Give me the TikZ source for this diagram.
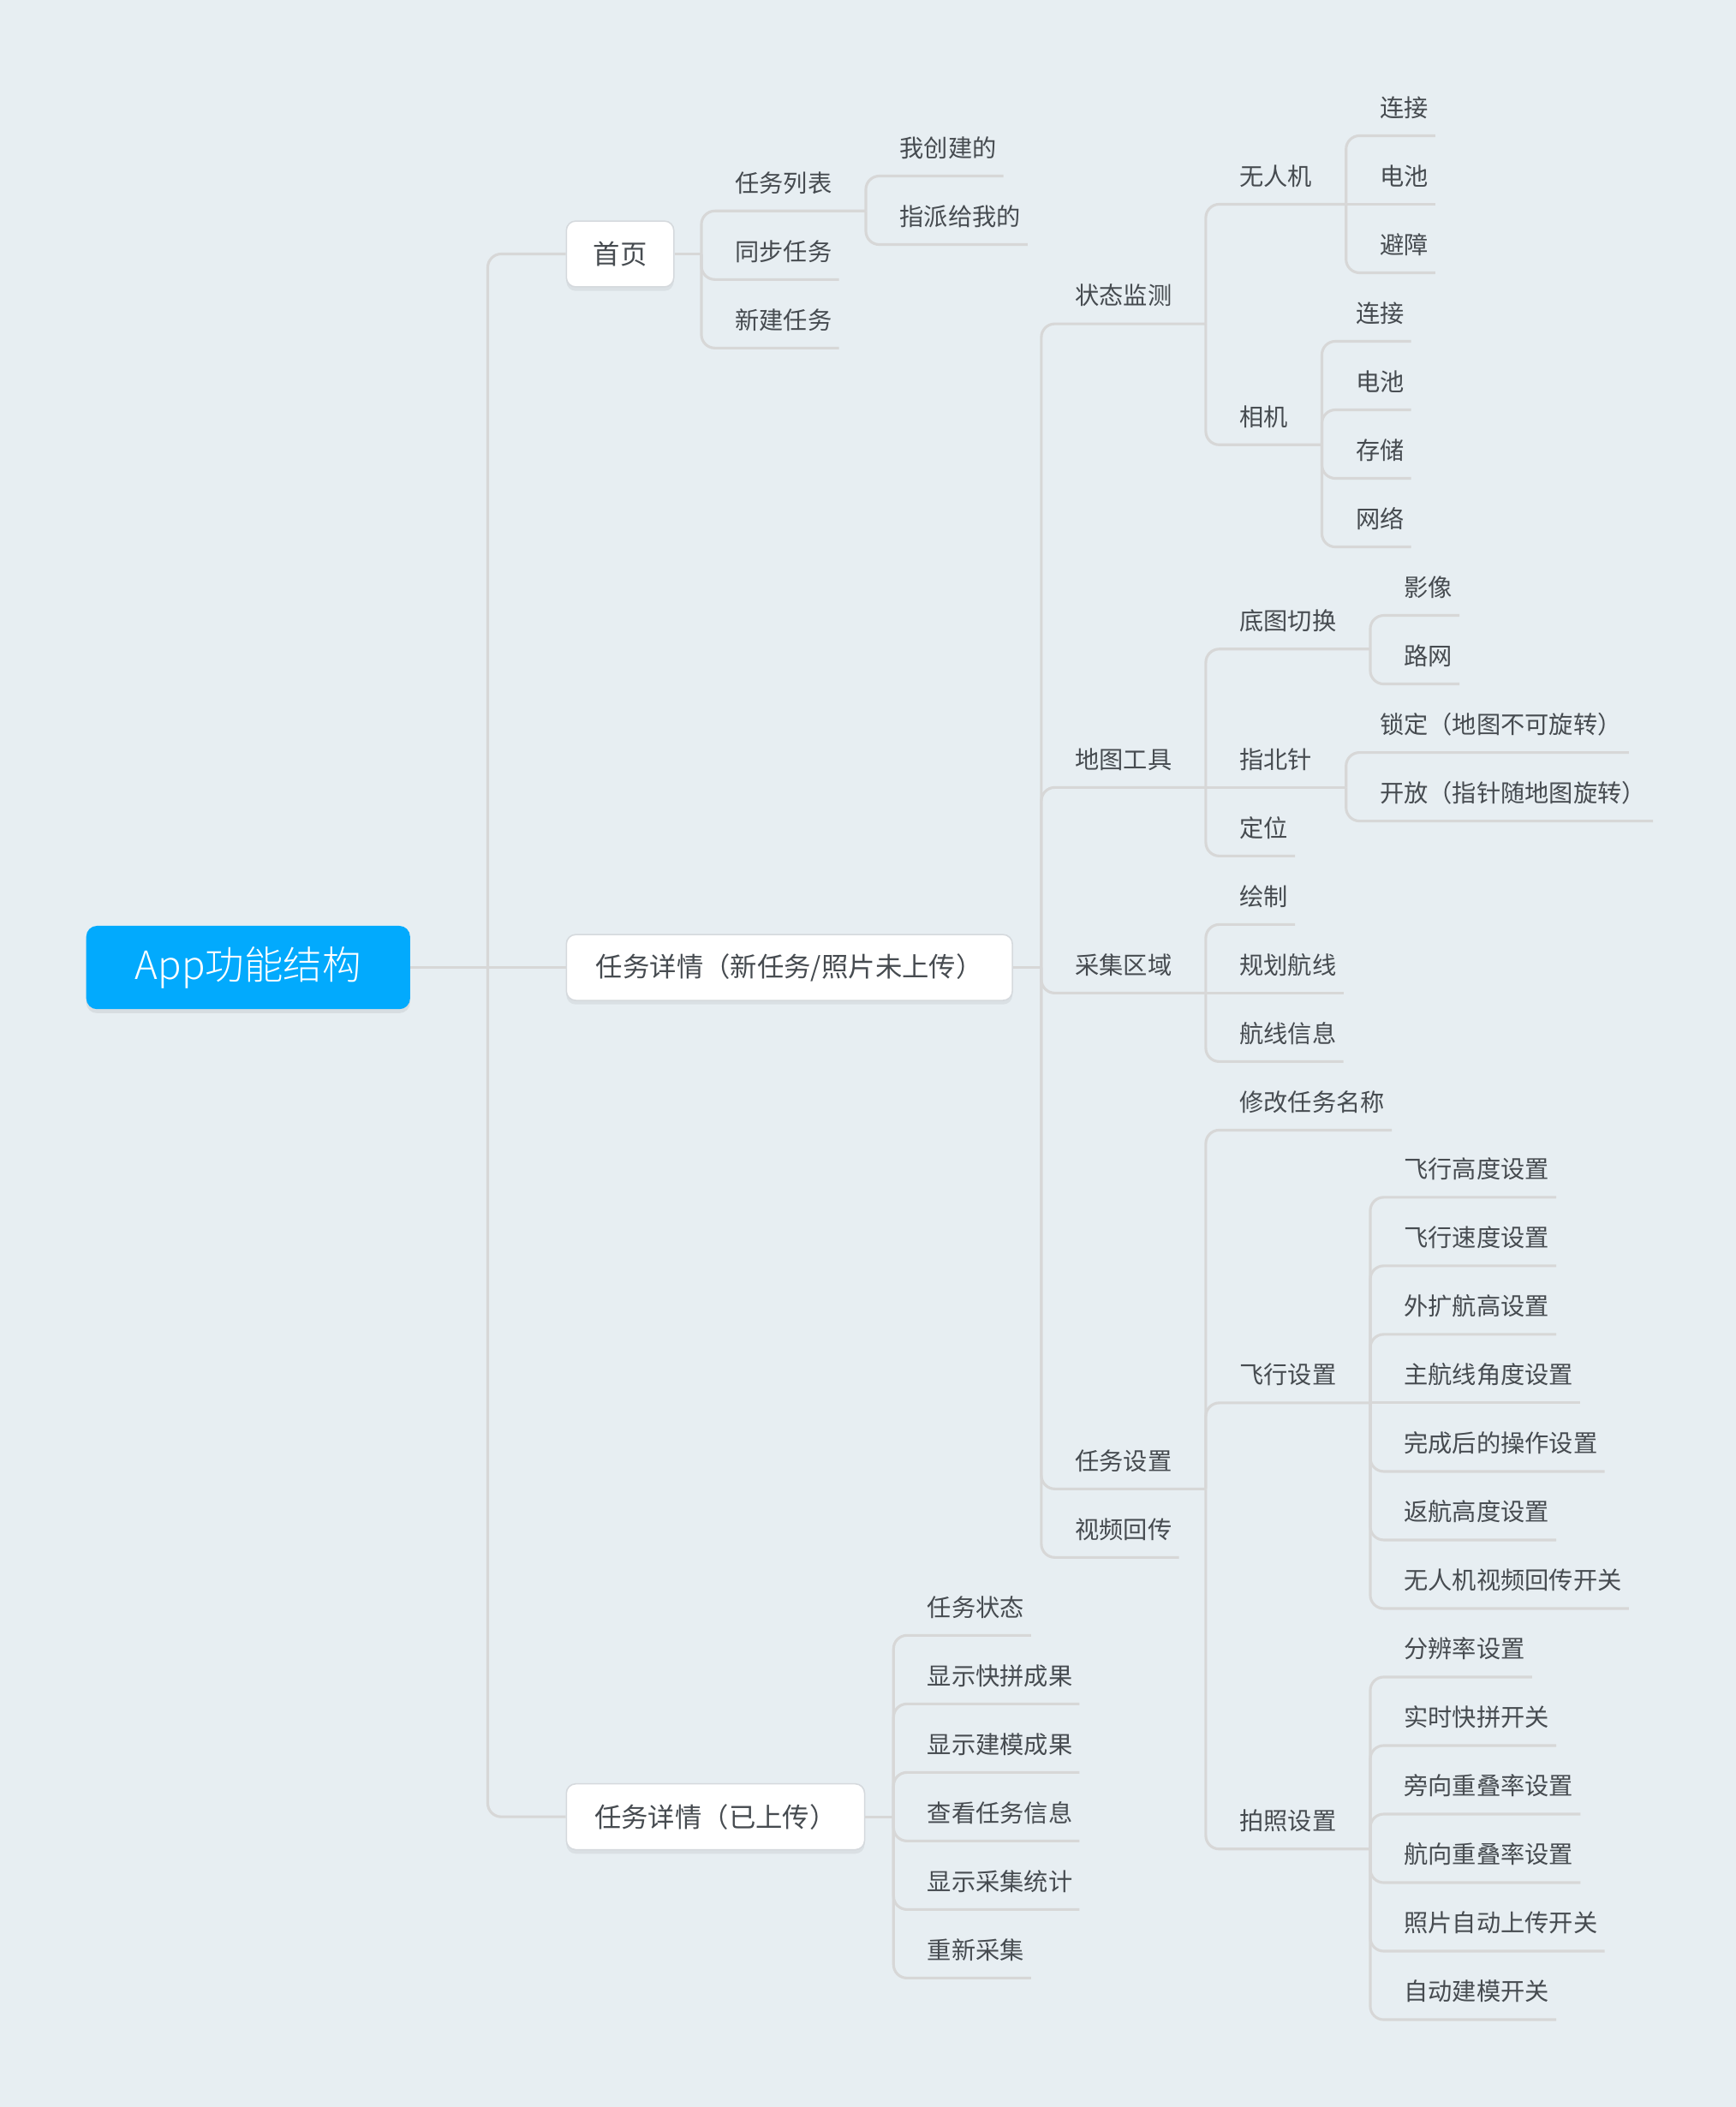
\documentclass[tikz,border=0pt]{standalone}
\usepackage{fontspec}
\setmainfont{Noto Sans CJK SC}
\newfontfamily\rootfont{Noto Sans CJK SC Light}
\usetikzlibrary{shadows}
\definecolor{bgcol}{HTML}{E7EEF2}
\definecolor{linecol}{HTML}{D7D7D7}
\definecolor{txtcol}{HTML}{464B50}
\definecolor{rootcol}{HTML}{02AAFD}
\definecolor{boxline}{HTML}{D5D9DD}

\begin{document}
\begin{tikzpicture}[x=1pt,y=-1pt]
\tikzset{link/.style={draw=linecol,line width=2pt,rounded corners=10pt}}
\tikzset{topic/.style={anchor=south west,text=txtcol,font=\fontsize{18}{18}\selectfont,text height=16pt,text depth=0pt,inner ysep=14pt}}
\tikzset{leaf/.style={topic,inner xsep=5pt,xshift=20pt}}
\tikzset{branch/.style={topic,inner xsep=25pt}}
\tikzset{card/.style={anchor=west,fill=white,draw=boxline,line width=1pt,rounded corners=7pt,minimum height=49pt,text=txtcol,font=\fontsize{20}{20}\selectfont,drop shadow={shadow xshift=0pt,shadow yshift=-3pt,opacity=.12}}}
\tikzset{rootbox/.style={anchor=west,fill=rootcol,text=white,rounded corners=8pt,minimum width=241pt,minimum height=62pt,font=\rootfont\fontsize{29}{29}\selectfont,drop shadow={shadow xshift=0pt,shadow yshift=-3pt,opacity=.15}}}
\path[use as bounding box,fill=bgcol] (0,0) rectangle (1292,1568);

\node[rootbox] (app) at (64,720) {App功能结构};
\node[card,minimum width=80pt] (sy) at (421,189) {首页};
\node[card,minimum width=332pt] (xq) at (421,720) {任务详情（新任务/照片未上传）};
\node[card,minimum width=222pt] (ys) at (421,1352) {任务详情（已上传）};
\coordinate (app-j) at (363,720);
\coordinate (sy-j) at ([xshift=20pt]sy.east);
\coordinate (xq-j) at ([xshift=21pt]xq.east);
\coordinate (ys-j) at ([xshift=21pt]ys.east);

% 首页
\node[branch] (sy-lb) at (sy-j |- 0,157) {任务列表};
\node[leaf] (sy-lb-1) at (sy-lb.south east |- 0,131) {我创建的};
\node[leaf] (sy-lb-2) at (sy-lb.south east |- 0,182) {指派给我的};
\node[leaf] (sy-tb) at (sy-j |- 0,208) {同步任务};
\node[leaf] (sy-xj) at (sy-j |- 0,259) {新建任务};

% 任务详情（新任务）
\node[branch] (jc) at (xq-j |- 0,241) {状态监测};
\node[branch] (wrj) at (jc.south east |- 0,152) {无人机};
\node[leaf] (wrj-lj) at (wrj.south east |- 0,101) {连接};
\node[leaf] (wrj-dc) at (wrj.south east |- 0,152) {电池};
\node[leaf] (wrj-bz) at (wrj.south east |- 0,203) {避障};
\node[branch] (xj) at (jc.south east |- 0,331) {相机};
\node[leaf] (xj-lj) at (xj.south east |- 0,254) {连接};
\node[leaf] (xj-dc) at (xj.south east |- 0,305) {电池};
\node[leaf] (xj-cc) at (xj.south east |- 0,356) {存储};
\node[leaf] (xj-wl) at (xj.south east |- 0,407) {网络};

\node[branch] (dt) at (xq-j |- 0,586) {地图工具};
\node[branch] (dq) at (dt.south east |- 0,483) {底图切换};
\node[leaf] (dq-yx) at (dq.south east |- 0,458) {影像};
\node[leaf] (dq-lw) at (dq.south east |- 0,509) {路网};
\node[branch] (zb) at (dt.south east |- 0,586) {指北针};
\node[leaf] (zb-sd) at (zb.south east |- 0,560) {锁定（地图不可旋转）};
\node[leaf] (zb-kf) at (zb.south east |- 0,611) {开放（指针随地图旋转）};
\node[leaf] (dw) at (dt.south east |- 0,637) {定位};

\node[branch] (cj) at (xq-j |- 0,739) {采集区域};
\node[leaf] (cj-hz) at (cj.south east |- 0,688) {绘制};
\node[leaf] (cj-gh) at (cj.south east |- 0,739) {规划航线};
\node[leaf] (cj-xx) at (cj.south east |- 0,790) {航线信息};

\node[branch] (rw) at (xq-j |- 0,1108) {任务设置};
\node[leaf] (rw-xg) at (rw.south east |- 0,841) {修改任务名称};
\node[branch] (fx) at (rw.south east |- 0,1044) {飞行设置};
\node[leaf] (fx-1) at (fx.south east |- 0,891) {飞行高度设置};
\node[leaf] (fx-2) at (fx.south east |- 0,942) {飞行速度设置};
\node[leaf] (fx-3) at (fx.south east |- 0,993) {外扩航高设置};
\node[leaf] (fx-4) at (fx.south east |- 0,1044) {主航线角度设置};
\node[leaf] (fx-5) at (fx.south east |- 0,1095) {完成后的操作设置};
\node[leaf] (fx-6) at (fx.south east |- 0,1146) {返航高度设置};
\node[leaf] (fx-7) at (fx.south east |- 0,1197) {无人机视频回传开关};
\node[branch] (pz) at (rw.south east |- 0,1376) {拍照设置};
\node[leaf] (pz-1) at (pz.south east |- 0,1248) {分辨率设置};
\node[leaf] (pz-2) at (pz.south east |- 0,1299) {实时快拼开关};
\node[leaf] (pz-3) at (pz.south east |- 0,1350) {旁向重叠率设置};
\node[leaf] (pz-4) at (pz.south east |- 0,1401) {航向重叠率设置};
\node[leaf] (pz-5) at (pz.south east |- 0,1452) {照片自动上传开关};
\node[leaf] (pz-6) at (pz.south east |- 0,1503) {自动建模开关};
\node[leaf] (sp) at (xq-j |- 0,1159) {视频回传};

% 任务详情（已上传）
\node[leaf] (ys-1) at (ys-j |- 0,1217) {任务状态};
\node[leaf] (ys-2) at (ys-j |- 0,1268) {显示快拼成果};
\node[leaf] (ys-3) at (ys-j |- 0,1319) {显示建模成果};
\node[leaf] (ys-4) at (ys-j |- 0,1370) {查看任务信息};
\node[leaf] (ys-5) at (ys-j |- 0,1421) {显示采集统计};
\node[leaf] (ys-6) at (ys-j |- 0,1472) {重新采集};

% connectors
\draw[link] (app.east) -- (app-j);
\draw[link] (app-j) |- (sy.west);
\draw[link] (app-j) -- (xq.west);
\draw[link] (app-j) |- (ys.west);

\draw[link] (sy.east) -- (sy-j);
\draw[link] (sy-j) |- (sy-lb.south east);
\draw[link] (sy-j) |- (sy-tb.south east);
\draw[link] (sy-j) |- (sy-xj.south east);
\draw[link] (sy-lb.south east) |- (sy-lb-1.south east);
\draw[link] (sy-lb.south east) |- (sy-lb-2.south east);

\draw[link] (xq.east) -- (xq-j);
\draw[link] (xq-j) |- (jc.south east);
\draw[link] (xq-j) |- (dt.south east);
\draw[link] (xq-j) |- (cj.south east);
\draw[link] (xq-j) |- (rw.south east);
\draw[link] (xq-j) |- (sp.south east);

\draw[link] (jc.south east) |- (wrj.south east);
\draw[link] (jc.south east) |- (xj.south east);
\draw[link] (wrj.south east) |- (wrj-lj.south east);
\draw[link] (wrj.south east) -- (wrj-dc.south east);
\draw[link] (wrj.south east) |- (wrj-bz.south east);
\draw[link] (xj.south east) |- (xj-lj.south east);
\draw[link] (xj.south east) |- (xj-dc.south east);
\draw[link] (xj.south east) |- (xj-cc.south east);
\draw[link] (xj.south east) |- (xj-wl.south east);

\draw[link] (dt.south east) |- (dq.south east);
\draw[link] (dt.south east) -- (zb.south east);
\draw[link] (dt.south east) |- (dw.south east);
\draw[link] (dq.south east) |- (dq-yx.south east);
\draw[link] (dq.south east) |- (dq-lw.south east);
\draw[link] (zb.south east) |- (zb-sd.south east);
\draw[link] (zb.south east) |- (zb-kf.south east);

\draw[link] (cj.south east) |- (cj-hz.south east);
\draw[link] (cj.south east) -- (cj-gh.south east);
\draw[link] (cj.south east) |- (cj-xx.south east);

\draw[link] (rw.south east) |- (rw-xg.south east);
\draw[link] (rw.south east) |- (fx.south east);
\draw[link] (rw.south east) |- (pz.south east);
\draw[link] (fx.south east) |- (fx-1.south east);
\draw[link] (fx.south east) |- (fx-2.south east);
\draw[link] (fx.south east) |- (fx-3.south east);
\draw[link] (fx.south east) -- (fx-4.south east);
\draw[link] (fx.south east) |- (fx-5.south east);
\draw[link] (fx.south east) |- (fx-6.south east);
\draw[link] (fx.south east) |- (fx-7.south east);
\draw[link] (pz.south east) |- (pz-1.south east);
\draw[link] (pz.south east) |- (pz-2.south east);
\draw[link] (pz.south east) |- (pz-3.south east);
\draw[link] (pz.south east) |- (pz-4.south east);
\draw[link] (pz.south east) |- (pz-5.south east);
\draw[link] (pz.south east) |- (pz-6.south east);

\draw[link] (ys.east) -- (ys-j);
\draw[link] (ys-j) |- (ys-1.south east);
\draw[link] (ys-j) |- (ys-2.south east);
\draw[link] (ys-j) |- (ys-3.south east);
\draw[link] (ys-j) |- (ys-4.south east);
\draw[link] (ys-j) |- (ys-5.south east);
\draw[link] (ys-j) |- (ys-6.south east);
\end{tikzpicture}
\end{document}
